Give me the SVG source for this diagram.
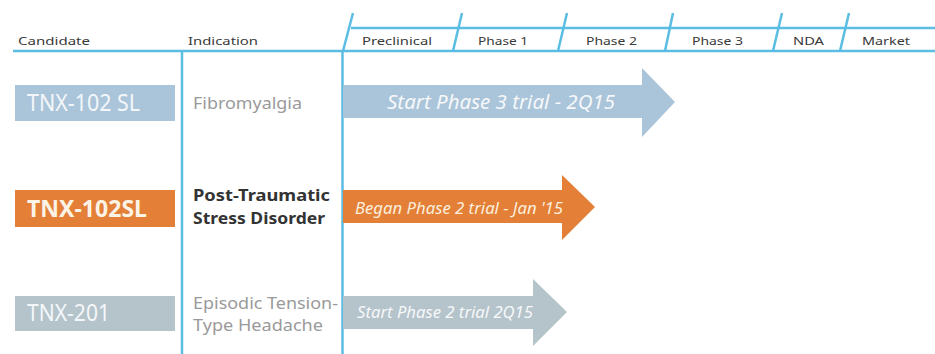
<svg xmlns="http://www.w3.org/2000/svg" width="935" height="354" viewBox="0 0 935 354">
  <style>
    .rule { stroke: #5cbde3; stroke-width: 2.5; fill: none; }
    .hdr { font-family: "Noto Sans", "Liberation Sans", sans-serif; font-size: 11.5px; fill: #3a3a3a; }
    .cand { font-family: "Noto Sans", "Liberation Sans", sans-serif; font-size: 24px; fill: #f4f7fa; }
    .ind { font-family: "Noto Sans", "Liberation Sans", sans-serif; font-size: 16.5px; fill: #9a9a9a; }
    .ind-b { font-family: "Noto Sans", "Liberation Sans", sans-serif; font-size: 16.5px; font-weight: bold; fill: #333333; }
    .note { font-family: "Noto Sans", "Liberation Sans", sans-serif; font-style: italic; fill: #f6f8fa; }
    .blue { fill: #aac4d9; }
    .gray { fill: #b5c3ca; }
    .orange { fill: #e37f36; }
  </style>

  <!-- table frame -->
  <g id="grid">
    <line class="rule" x1="351" y1="28" x2="935" y2="28"/>
    <line class="rule" x1="13" y1="51" x2="935" y2="51"/>
    <line class="rule" x1="182" y1="51" x2="182" y2="354"/>
    <line class="rule" x1="342.5" y1="51" x2="342.5" y2="354"/>
    <!-- slanted phase dividers -->
    <line class="rule" x1="353" y1="13" x2="343" y2="51"/>
    <line class="rule" x1="462" y1="13" x2="453" y2="51"/>
    <line class="rule" x1="567" y1="13" x2="558" y2="51"/>
    <line class="rule" x1="673" y1="13" x2="665" y2="51"/>
    <line class="rule" x1="782" y1="13" x2="773" y2="51"/>
    <line class="rule" x1="849" y1="13" x2="840" y2="51"/>
  </g>

  <!-- column headings -->
  <g id="headings">
    <text class="hdr" x="18" y="45" textLength="72" lengthAdjust="spacingAndGlyphs">Candidate</text>
    <text class="hdr" x="188" y="45" textLength="70" lengthAdjust="spacingAndGlyphs">Indication</text>
    <text class="hdr" x="362" y="45" textLength="70" lengthAdjust="spacingAndGlyphs">Preclinical</text>
    <text class="hdr" x="478" y="45" textLength="50" lengthAdjust="spacingAndGlyphs">Phase 1</text>
    <text class="hdr" x="586" y="45" textLength="51" lengthAdjust="spacingAndGlyphs">Phase 2</text>
    <text class="hdr" x="692" y="45" textLength="51" lengthAdjust="spacingAndGlyphs">Phase 3</text>
    <text class="hdr" x="793" y="45" textLength="31" lengthAdjust="spacingAndGlyphs">NDA</text>
    <text class="hdr" x="862" y="45" textLength="48" lengthAdjust="spacingAndGlyphs">Market</text>
  </g>

  <!-- row 1: fibromyalgia -->
  <g id="row-fibromyalgia">
    <rect class="blue" x="15" y="85" width="160" height="36"/>
    <text class="cand" x="27" y="111" textLength="113" lengthAdjust="spacingAndGlyphs">TNX-102 SL</text>
    <text class="ind" x="193" y="109" textLength="109" lengthAdjust="spacingAndGlyphs">Fibromyalgia</text>
    <polygon class="blue" points="343,85 642,85 642,68 675,102 642,137 642,118 343,118"/>
    <text class="note" x="387" y="109" font-size="19" textLength="228" lengthAdjust="spacingAndGlyphs">Start Phase 3 trial - 2Q15</text>
  </g>

  <!-- row 2: PTSD -->
  <g id="row-ptsd">
    <rect class="orange" x="15" y="190" width="160" height="37"/>
    <text class="cand" x="27" y="217" font-weight="bold" style="fill:#fbf3e6" textLength="120" lengthAdjust="spacingAndGlyphs">TNX-102SL</text>
    <text class="ind-b" x="193" y="201" textLength="137" lengthAdjust="spacingAndGlyphs">Post-Traumatic</text>
    <text class="ind-b" x="193" y="224" textLength="132" lengthAdjust="spacingAndGlyphs">Stress Disorder</text>
    <polygon class="orange" points="343,190 562,190 562,175 595,207 562,240 562,223 343,223"/>
    <text class="note" x="355" y="214" font-size="16" style="fill:#fbeedd" textLength="208" lengthAdjust="spacingAndGlyphs">Began Phase 2 trial - Jan '15</text>
  </g>

  <!-- row 3: tension-type headache -->
  <g id="row-headache">
    <rect class="gray" x="15" y="296" width="160" height="35"/>
    <text class="cand" x="27" y="321" textLength="83" lengthAdjust="spacingAndGlyphs">TNX-201</text>
    <text class="ind" x="193" y="309" textLength="145" lengthAdjust="spacingAndGlyphs">Episodic Tension-</text>
    <text class="ind" x="193" y="331" textLength="130" lengthAdjust="spacingAndGlyphs">Type Headache</text>
    <polygon class="gray" points="343,296 533,296 533,279 567,312 533,346 533,329 343,329"/>
    <text class="note" x="357" y="318" font-size="16" textLength="176" lengthAdjust="spacingAndGlyphs">Start Phase 2 trial 2Q15</text>
  </g>
</svg>
